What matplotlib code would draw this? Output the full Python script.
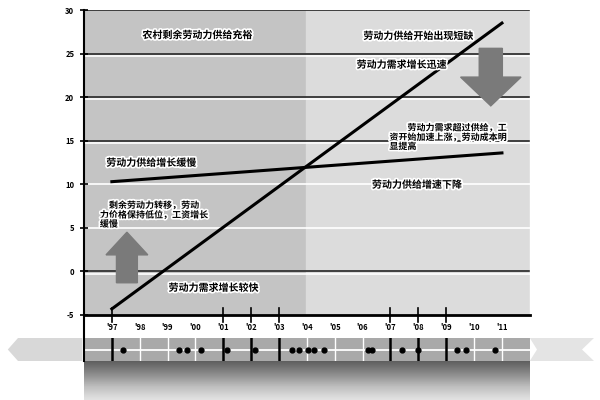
import numpy as np
import matplotlib.pyplot as plt
import matplotlib.patches as mpatches
import matplotlib.patheffects as pe

plt.rcParams['font.family'] = ['Noto Sans CJK SC', 'DejaVu Sans']

# x axis: years (two digit labels)
years = ["'97", "'98", "'99", "'00", "'01", "'02", "'03", "'04",
         "'05", "'06", "'07", "'08", "'09", "'10", "'11"]
y_ticks = [-5, 0, 5, 10, 15, 20, 25, 30]

# the two lines, given at first and last year
line_x = [0, 14]
demand = [-4.3, 28.5]
supply = [10.3, 13.6]

# events on the time band under the chart
event_bars = [0, 4, 5, 6, 10, 11, 12]
event_dots = [0.4, 2.4, 2.7, 3.2, 4.15, 5.15, 6.45, 6.7, 7.05, 7.25, 7.6,
              9.2, 9.35, 10.4, 11.0, 12.4, 12.7, 13.75]

turn_x = 6.95

halo = [pe.withStroke(linewidth=2.4, foreground='white')]

fig = plt.figure(figsize=(6, 4), dpi=100)
ax = fig.add_axes([0.14, 0.2125, 0.743, 0.7625])
ax.set_xlim(-1, 15)
ax.set_ylim(-5, 30)

# two shaded periods
ax.axvspan(-1, turn_x, color='#c4c4c4', zorder=0)
ax.axvspan(turn_x, 15, color='#dcdcdc', zorder=0)

# grid lines, some dark with a white edge, some plain white
for v in [25, 20, 15, 0]:
    ax.axhline(v - 0.25, color='white', lw=1.2, zorder=1)
    ax.axhline(v, color='#333333', lw=1.3, zorder=1)
for v in [10, 5]:
    ax.axhline(v, color='white', lw=1.2, zorder=1)

ax.plot(line_x, demand, color='black', lw=2.2, zorder=3)
ax.plot(line_x, supply, color='black', lw=2.2, zorder=3)

# arrows
ax.add_patch(mpatches.FancyArrow(
    0.54, -1.3, 0, 5.8, width=0.75, head_width=1.5, head_length=2.6,
    length_includes_head=True, color='#7a7a7a', zorder=2))
ax.add_patch(mpatches.FancyArrow(
    13.6, 25.6, 0, -6.6, width=0.83, head_width=2.17, head_length=3.3,
    length_includes_head=True, color='#7a7a7a', zorder=2))

# annotations
kw = dict(fontweight='bold', color='black', zorder=5, path_effects=halo)
ax.text(3.07, 27.1, '农村剩余劳动力供给充裕', ha='center', va='center',
        fontsize=7.2, **kw)
ax.text(11.0, 27.0, '劳动力供给开始出现短缺', ha='center', va='center',
        fontsize=7.2, **kw)
ax.text(10.4, 23.7, '劳动力需求增长迅速', ha='center', va='center',
        fontsize=7.2, **kw)
ax.text(-0.2, 12.45, '劳动力供给增长缓慢', ha='left', va='center',
        fontsize=7.2, **kw)
ax.text(9.96, 15.4, '　　劳动力需求超过供给，工\n资开始加速上涨，劳动成本明\n显提高',
        ha='left', va='center', linespacing=1.0, fontsize=6.5, **kw)
ax.text(10.95, 9.93, '劳动力供给增速下降', ha='center', va='center',
        fontsize=7.2, **kw)
ax.text(-0.43, 6.5, '　剩余劳动力转移，劳动\n力价格保持低位，工资增长\n缓慢',
        ha='left', va='center', linespacing=1.0, fontsize=6.5, **kw)
ax.text(3.65, -1.9, '劳动力需求增长较快', ha='center', va='center',
        fontsize=7.2, **kw)

ax.set_xticks(range(len(years)))
ax.set_xticklabels(years, fontsize=5.5, fontweight='bold')
ax.set_yticks(y_ticks)
ax.set_yticklabels([str(v) for v in y_ticks], fontsize=5.5,
                   fontweight='bold')
ax.tick_params(axis='x', length=0, pad=6)
ax.tick_params(axis='y', length=6, width=1.2, direction='inout', pad=4)
for k in event_bars:
    ax.plot([k, k], [-5.8, -4.2], color='black', lw=1.2, clip_on=False,
            zorder=6)
for s in ['top', 'right']:
    ax.spines[s].set_visible(False)
ax.spines['left'].set_linewidth(1.5)
ax.spines['bottom'].set_linewidth(2.0)
ax.axhline(30, color='#333333', lw=1.3, zorder=1)
ax.axvline(15, color='white', lw=1.0, zorder=1)

# time band
band = fig.add_axes([0.14, 0.0975, 0.743, 0.0575])
band.set_xlim(-1, 15)
band.set_ylim(0, 1)
band.axvspan(-1, 15, color='#a9a9a9')
for k in range(len(years)):
    if k not in event_bars:
        band.axvline(k, color='white', lw=1.0)
band.axhline(0.5, color='white', lw=1.3)
for k in event_bars:
    band.axvline(k, color='black', lw=1.8)
band.plot(event_dots, [0.5] * len(event_dots), 'o', color='black', ms=3.5)
band.axis('off')

# fading block under the band
grad = fig.add_axes([0.14, 0.0, 0.743, 0.0975])
grad.imshow(np.linspace(0, 1, 50).reshape(-1, 1), cmap='Greys_r',
            vmin=-0.6, vmax=1.4, aspect='auto')
grad.axis('off')

# side arrows of the band
left = mpatches.Polygon([[0.013, 0.1262], [0.03, 0.155], [0.137, 0.155],
                         [0.137, 0.0975], [0.03, 0.0975]],
                        closed=True, transform=fig.transFigure,
                        fc='#d8d8d8', ec='none')
right = mpatches.Polygon([[0.883, 0.155], [0.99, 0.155], [0.97, 0.1262],
                          [0.99, 0.0975], [0.883, 0.0975], [0.895, 0.1262]],
                         closed=True, transform=fig.transFigure,
                         fc='#e4e4e4', ec='none')
fig.patches.extend([left, right])
fig.add_artist(plt.Line2D([0.14, 0.14], [0.0975, 0.2125], color='black',
                          lw=1.5, transform=fig.transFigure))

fig.savefig('out.png', dpi=100)
